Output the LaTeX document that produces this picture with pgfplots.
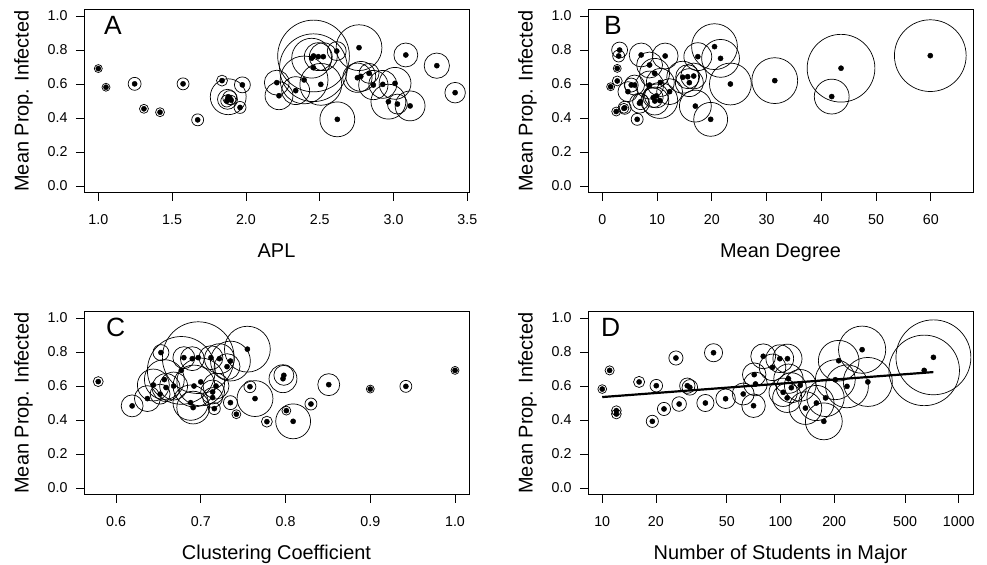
\documentclass[border=0pt]{standalone}
\usepackage{pgfplots}
\usepackage{pgfplotstable}
\pgfplotsset{compat=1.18}
\usepackage{fontspec}
\setmainfont{Liberation Sans}

\pgfplotstableread{
x y r
1.000 0.691 4
1.052 0.581 4
1.246 0.601 6.5
1.309 0.454 4.5
1.418 0.434 4.5
1.574 0.601 6
1.673 0.389 6
1.838 0.620 5.5
1.976 0.595 8
1.960 0.462 6
1.880 0.525 18
1.875 0.510 10
1.890 0.520 7
1.870 0.500 6
1.900 0.505 5
2.209 0.608 12.5
2.224 0.531 14
2.337 0.561 14
2.394 0.624 24
2.507 0.598 21
2.457 0.696 34
2.445 0.752 20
2.458 0.765 36
2.490 0.761 14
2.524 0.761 14
2.615 0.794 9.5
2.766 0.814 23
2.619 0.392 17.5
2.755 0.637 14.7
2.778 0.645 15
2.834 0.663 10
2.863 0.594 14.7
2.927 0.598 14
3.010 0.604 16
2.965 0.496 17.5
3.026 0.482 10
3.112 0.471 15
3.083 0.771 12
3.293 0.708 12.7
3.417 0.549 10.3
}\dataA

\pgfplotstableread{
x y r
1.53 0.584 4
2.74 0.618 5
2.74 0.692 4
2.55 0.438 4.5
3.00 0.765 6
3.17 0.800 8
3.96 0.457 5
4.10 0.460 6.5
4.69 0.555 10
5.29 0.594 7
5.90 0.594 10
6.38 0.392 6
6.80 0.487 10
7.00 0.496 8
7.11 0.771 12
8.64 0.712 13
8.64 0.594 14
9.56 0.663 15
9.30 0.520 10
9.60 0.500 14
9.90 0.530 12
10.5 0.503 18
10.6 0.609 14
11.49 0.765 13
12.3 0.555 13
14.7 0.640 16
15.6 0.643 12
15.9 0.608 14
16.7 0.647 13
17.0 0.470 16
17.45 0.761 14
19.8 0.392 17
20.5 0.820 23
21.6 0.751 19
23.4 0.600 21
31.5 0.620 23
41.9 0.526 17.5
43.6 0.693 34
59.9 0.767 36
}\dataB

\pgfplotstableread{
x y r
0.579 0.626 5
0.619 0.483 11
0.637 0.526 13
0.644 0.606 16
0.653 0.797 8
0.652 0.552 10
0.657 0.638 20
0.659 0.591 14
0.668 0.600 14
0.677 0.692 34
0.680 0.767 11
0.690 0.761 12
0.697 0.767 36
0.692 0.600 21
0.700 0.624 24
0.688 0.502 17.7
0.691 0.473 16.4
0.712 0.767 12
0.722 0.761 15
0.731 0.714 13
0.735 0.747 20
0.714 0.565 12
0.714 0.532 10
0.718 0.600 13
0.716 0.467 6
0.735 0.502 7
0.742 0.434 4.5
0.755 0.817 23
0.758 0.596 6
0.764 0.526 18
0.778 0.390 5.5
0.797 0.643 14
0.798 0.663 10
0.801 0.455 4.5
0.809 0.392 17.5
0.830 0.494 6
0.851 0.608 11
0.900 0.582 4
0.942 0.598 6
1.000 0.692 4
}\dataC

\pgfplotstableread{
x y r
10 0.582 4.4
11 0.692 4.6
12 0.455 4.9
12 0.435 4.9
16.1 0.624 5.6
19.1 0.392 6.1
20.1 0.602 6.3
22.2 0.465 6.6
25.9 0.765 7.1
27 0.494 7.3
30 0.602 7.7
31 0.592 7.8
37.9 0.500 8.6
42.1 0.796 9.1
49.2 0.525 9.8
61.8 0.553 11
70.6 0.484 11.8
71.2 0.667 11.8
72.4 0.612 11.9
80 0.775 12.5
90.2 0.710 13.3
99.1 0.761 13.9
109.4 0.761 14.6
103.5 0.563 14.2
109 0.530 14.6
110.8 0.643 14.7
115 0.590 15
129 0.604 15.9
138 0.470 16.4
159 0.500 17.7
175 0.392 18.5
179 0.530 18.7
203 0.637 20
212 0.749 20.4
236 0.598 21.5
287 0.814 23.7
309 0.624 24.6
640 0.692 35.4
721 0.769 37.6
}\dataD

\tikzset{letter/.style={anchor=north west, inner sep=0pt, font=\fontsize{26.5}{30}\selectfont}}

\pgfplotsset{
  rstyle/.style={
    scale only axis, width=385bp, height=183.4bp,
    axis line style={line width=0.8pt},
    tick align=outside, major tick length=8bp,
    tick style={line width=0.8pt, black},
    xtick pos=bottom, ytick pos=left,
    ymin=-0.04, ymax=1.04,
    ytick={0,0.2,0.4,0.6,0.8,1.0},
    yticklabel style={/pgf/number format/fixed, /pgf/number format/fixed zerofill, /pgf/number format/precision=1, xshift=-5bp},
    xticklabel style={yshift=-10bp},
    /pgf/number format/assume math mode=true,
    tick label style={font=\fontsize{14.3}{16}\selectfont},
    ylabel={Mean Prop. Infected},
    every axis y label/.style={at={(rel axis cs:0,0.5)}, xshift=-51bp, rotate=90, anchor=south, inner sep=0pt, font=\fontsize{20}{24}\selectfont},
    every axis x label/.style={at={(rel axis cs:0.5,0)}, yshift=-65bp, anchor=base, inner sep=0pt, font=\fontsize{20}{24}\selectfont},
    clip=false,
  },
  circ/.style={scatter, only marks, mark=o, point meta=\thisrow{r},
    scatter/use mapped color={draw=black, fill=none},
    mark options={line width=0.7pt},
    visualization depends on={\thisrow{r} \as \rr},
    scatter/@pre marker code/.append style={/tikz/mark size=\rr}},
  dot/.style={only marks, mark=*, mark size=2.6pt, black},
}

\begin{document}
\begin{tikzpicture}
\path[use as bounding box] (0,0) rectangle (987bp,565bp);

% Panel A
\begin{axis}[rstyle, at={(84bp,372.3bp)}, anchor=south west,
  xmin=0.903, xmax=3.511, xtick={1,1.5,2,2.5,3,3.5},
  xticklabel style={/pgf/number format/fixed, /pgf/number format/fixed zerofill, /pgf/number format/precision=1},
  xlabel={APL}]
\addplot[circ] table[x=x,y=y] {\dataA};
\addplot[dot] table[x=x,y=y] {\dataA};
\node[letter] at ([xshift=20bp,yshift=-6.7bp]rel axis cs:0,1) {A};
\end{axis}

% Panel B
\begin{axis}[rstyle, at={(588bp,372.3bp)}, anchor=south west,
  xmin=-2.6, xmax=67.7, xtick={0,10,20,30,40,50,60},
  xlabel={Mean Degree}]
\addplot[circ] table[x=x,y=y] {\dataB};
\addplot[dot] table[x=x,y=y] {\dataB};
\node[letter] at ([xshift=16bp,yshift=-6.7bp]rel axis cs:0,1) {B};
\end{axis}

% Panel C
\begin{axis}[rstyle, at={(84bp,70.3bp)}, anchor=south west,
  xmin=0.5622, xmax=1.0165, xtick={0.6,0.7,0.8,0.9,1.0},
  xticklabel style={/pgf/number format/fixed, /pgf/number format/fixed zerofill, /pgf/number format/precision=1},
  xlabel={Clustering Coefficient}]
\addplot[circ] table[x=x,y=y] {\dataC};
\addplot[dot] table[x=x,y=y] {\dataC};
\node[letter] at ([xshift=22bp,yshift=-6.7bp]rel axis cs:0,1) {C};
\end{axis}

% Panel D
\begin{axis}[rstyle, at={(588bp,70.3bp)}, anchor=south west,
  xmode=log, xmin=8.32, xmax=1202,
  xtick={10,20,50,100,200,500,1000}, xticklabels={10,20,50,100,200,500,1000},
  minor xtick={},
  xlabel={Number of Students in Major}]
\addplot[circ] table[x=x,y=y] {\dataD};
\addplot[dot] table[x=x,y=y] {\dataD};
\addplot[black, line width=2.2pt] coordinates {(10,0.535) (720,0.682)};
\node[letter] at ([xshift=13bp,yshift=-6.7bp]rel axis cs:0,1) {D};
\end{axis}
\end{tikzpicture}
\end{document}
